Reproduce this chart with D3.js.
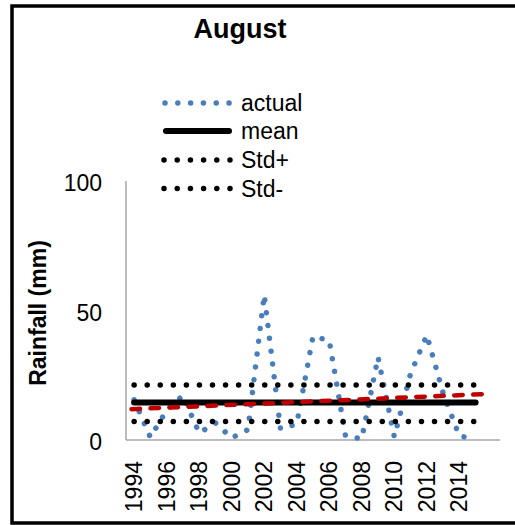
<!DOCTYPE html>
<html>
<head>
<meta charset="utf-8">
<script src="https://cdn.jsdelivr.net/npm/d3@7"></script>
<style>
  html, body { margin: 0; padding: 0; background: #fff; }
  svg { display: block; }
  text { font-family: "Liberation Sans", Arial, sans-serif; fill: #000; }
</style>
</head>
<body>
<svg id="chart" width="515" height="525"></svg>
<script>
// ---- data ----
const title = "August";
const yAxisTitle = "Rainfall (mm)";
const years = [1994, 1995, 1996, 1997, 1998, 1999, 2000, 2001, 2002, 2003, 2004,
               2005, 2006, 2007, 2008, 2009, 2010, 2011, 2012, 2013, 2014, 2015];
const actual = [15.5, 1, 11.5, 17.2, 2.7, 6.6, 0.8, 4, 56, 4.3, 6.2,
                40, 38.4, 1.5, 0.5, 32, 1.2, 25.6, 40.5, 18.2, 1.5, 0.5];
const meanValue = 14.5;
const stdPlusValue = 21.2;
const stdMinusValue = 7.1;
const trendYears = [1993.84, 2015.82];
const trendValues = [11.9, 17.8];
const yTicks = [0, 50, 100];
const xTickYears = [1994, 1996, 1998, 2000, 2002, 2004, 2006, 2008, 2010, 2012, 2014];
const legendItems = ["actual", "mean", "Std+", "Std-"];

// ---- styles ----
const blue = "#4a7ebb";
const red = "#c00000";
const axisGray = "#a6a6a6";

const svg = d3.select("#chart");
svg.append("rect").attr("width", 515).attr("height", 525).attr("fill", "#fff");

// outer border
svg.append("rect")
  .attr("x", 12).attr("y", 6).attr("width", 520).attr("height", 517)
  .attr("fill", "none").attr("stroke", "#000").attr("stroke-width", 3.5);

const x = d3.scaleLinear().domain([1993.5, 2016.5]).range([126, 500]);
const y = d3.scaleLinear().domain([0, 100]).range([440, 181]);

// axes lines
svg.append("line").attr("x1", 126).attr("x2", 126)
  .attr("y1", y(100)).attr("y2", y(0))
  .attr("stroke", axisGray).attr("stroke-width", 1.5);
svg.append("line").attr("x1", 126).attr("x2", 500)
  .attr("y1", y(0)).attr("y2", y(0))
  .attr("stroke", axisGray).attr("stroke-width", 1.5);

// y tick labels
svg.append("g").selectAll("text").data(yTicks).join("text")
  .attr("x", 102).attr("y", d => y(d) + 2)
  .attr("text-anchor", "end").attr("dominant-baseline", "central")
  .attr("font-size", 23).text(d => d);

// x tick labels (rotated)
svg.append("g").selectAll("text").data(xTickYears).join("text")
  .attr("transform", d => `translate(${x(d)},461) rotate(-90)`)
  .attr("text-anchor", "end").attr("dominant-baseline", "central")
  .attr("font-size", 23).text(d => d);

// y axis title
svg.append("text")
  .attr("transform", "translate(38,313) rotate(-90)")
  .attr("text-anchor", "middle").attr("dominant-baseline", "central")
  .attr("font-size", 23).attr("font-weight", "bold").text(yAxisTitle);

// title
svg.append("text").attr("x", 240).attr("y", 38)
  .attr("text-anchor", "middle").attr("font-size", 27)
  .attr("font-weight", "bold").text(title);

const line = d3.line().x(d => x(d[0])).y(d => y(d[1]));

// actual series (dotted)
svg.append("path")
  .attr("d", line(years.map((yr, i) => [yr, actual[i]])))
  .attr("fill", "none").attr("stroke", blue).attr("stroke-width", 5.5)
  .attr("stroke-linecap", "round").attr("stroke-linejoin", "round")
  .attr("stroke-dasharray", "0.01,12.9");

const first = years[0], last = years[years.length - 1];
// mean line
svg.append("path")
  .attr("d", line([[first, meanValue], [last, meanValue]]))
  .attr("fill", "none").attr("stroke", "#000").attr("stroke-width", 6)
  .attr("stroke-linecap", "round");
// std lines
[stdPlusValue, stdMinusValue].forEach(v => {
  svg.append("path")
    .attr("d", line([[first, v], [last, v]]))
    .attr("fill", "none").attr("stroke", "#000").attr("stroke-width", 5.5)
    .attr("stroke-linecap", "round").attr("stroke-dasharray", "0.01,13.05");
});
// trendline
svg.append("path")
  .attr("d", line(trendYears.map((yr, i) => [yr, trendValues[i]])))
  .attr("fill", "none").attr("stroke", red).attr("stroke-width", 4.5)
  .attr("stroke-linecap", "round").attr("stroke-dasharray", "8.5,10.5");

// legend
const legendY = [103, 131, 160, 188.5];
const lg = svg.append("g");
legendItems.forEach((name, i) => {
  const ly = legendY[i];
  if (name === "actual") {
    lg.append("line").attr("x1", 165).attr("x2", 229.5).attr("y1", ly).attr("y2", ly)
      .attr("stroke", blue).attr("stroke-width", 5.5).attr("stroke-linecap", "round")
      .attr("stroke-dasharray", "0.01,12.8");
  } else if (name === "mean") {
    lg.append("line").attr("x1", 166).attr("x2", 229).attr("y1", ly).attr("y2", ly)
      .attr("stroke", "#000").attr("stroke-width", 6).attr("stroke-linecap", "round");
  } else {
    lg.append("line").attr("x1", 164).attr("x2", 230).attr("y1", ly).attr("y2", ly)
      .attr("stroke", "#000").attr("stroke-width", 5.5).attr("stroke-linecap", "round")
      .attr("stroke-dasharray", "0.01,13.19");
  }
  lg.append("text").attr("x", 241).attr("y", ly)
    .attr("dominant-baseline", "central").attr("font-size", 23).text(name);
});
</script>
</body>
</html>
